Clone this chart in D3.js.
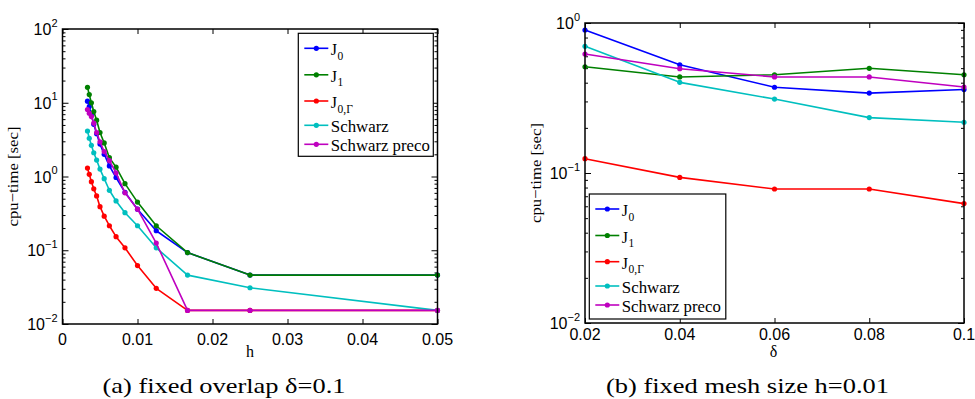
<!DOCTYPE html>
<html>
<head>
<meta charset="utf-8">
<script src="https://cdn.jsdelivr.net/npm/d3@7"></script>
<style>
  html, body { margin: 0; padding: 0; background: #fff; }
  svg { display: block; }
</style>
</head>
<body>
<svg id="fig" width="975" height="399"></svg>
<script>
// ---- data: (a) cpu-time vs mesh size h, overlap delta = 0.1 ----
const hValues = [0.00333, 0.00357, 0.00385, 0.00417, 0.00455, 0.005, 0.00556, 0.00625,
                 0.00714, 0.00833, 0.01, 0.0125, 0.01667, 0.025, 0.05];
const aJ0      = [10.5, 8.9, 6.8, 5.1, 3.8, 2.75, 2.0, 1.39, 0.97, 0.61, 0.36, 0.184, 0.093, 0.046, 0.046];
const aJ1      = [16.2, 12.9, 10.0, 7.6, 5.8, 3.95, 2.85, 1.8, 1.34, 0.80, 0.45, 0.215, 0.093, 0.046, 0.046];
const aJ0G     = [1.3, 1.07, 0.85, 0.68, 0.545, 0.39, 0.29, 0.215, 0.153, 0.108, 0.062, 0.0305, 0.0153, 0.0153, 0.0153];
const aSchwarz = [4.14, 3.3, 2.65, 2.1, 1.67, 1.26, 0.935, 0.65, 0.466, 0.323, 0.215, 0.108, 0.046, 0.031, 0.0153];
const aPreco   = [8.1, 7.2, 6.5, 5.3, 3.95, 2.95, 2.18, 1.64, 1.12, 0.60, 0.36, 0.125, 0.0153, 0.0153, 0.0153];

// ---- data: (b) cpu-time vs overlap delta, mesh size h = 0.01 ----
const deltaValues = [0.02, 0.04, 0.06, 0.08, 0.1];
const bJ0      = [0.898, 0.527, 0.373, 0.341, 0.360];
const bJ1      = [0.511, 0.437, 0.452, 0.499, 0.452];
const bJ0G     = [0.1245, 0.0935, 0.0782, 0.0782, 0.0625];
const bSchwarz = [0.699, 0.402, 0.311, 0.234, 0.218];
const bPreco   = [0.621, 0.496, 0.437, 0.437, 0.374];

// ---- series names (legend) and tick labels ----
const seriesNames = [["J", "0"], ["J", "1"], ["J", "0,Γ"], ["Schwarz", ""], ["Schwarz preco", ""]];
const seriesColors = ["#0000ff", "#008000", "#ff0000", "#00bfbf", "#bf00bf"];
const aXTicks = [0, 0.01, 0.02, 0.03, 0.04, 0.05];
const aXTickLabels = ["0", "0.01", "0.02", "0.03", "0.04", "0.05"];
const aYTicks = [1e-2, 1e-1, 1, 10, 100];
const aYExponents = ["−2", "−1", "0", "1", "2"];
const bXTicks = [0.02, 0.04, 0.06, 0.08, 0.1];
const bXTickLabels = ["0.02", "0.04", "0.06", "0.08", "0.1"];
const bYTicks = [1e-2, 1e-1, 1];
const bYExponents = ["−2", "−1", "0"];

const svg = d3.select("#fig");
svg.append("rect").attr("width", 975).attr("height", 399).attr("fill", "#fff");

const sans = "Liberation Sans";
const serif = "Liberation Serif";

function panel(cfg) {
  const g = svg.append("g");
  const x = d3.scaleLinear().domain(cfg.xDomain).range([cfg.x0, cfg.x1]);
  const y = d3.scaleLog().domain(cfg.yDomain).range([cfg.yBot, cfg.yTop]);

  // inward tick marks on all four sides
  const allY = y.ticks();
  const majorY = cfg.yTicks;
  const minorY = allY.filter(v => !majorY.some(m => Math.abs(Math.log10(v) - Math.log10(m)) < 1e-6));
  const tickGroups = [
    [d3.axisBottom(x).tickValues(cfg.xTicks).tickSize(-5), `translate(0,${cfg.yBot})`],
    [d3.axisTop(x).tickValues(cfg.xTicks).tickSize(-5), `translate(0,${cfg.yTop})`],
    [d3.axisLeft(y).tickValues(majorY).tickSize(-6), `translate(${cfg.x0},0)`],
    [d3.axisLeft(y).tickValues(minorY).tickSize(-3), `translate(${cfg.x0},0)`],
    [d3.axisRight(y).tickValues(majorY).tickSize(-6), `translate(${cfg.x1},0)`],
    [d3.axisRight(y).tickValues(minorY).tickSize(-3), `translate(${cfg.x1},0)`]
  ];
  tickGroups.forEach(([ax, tr]) => {
    const a = g.append("g").attr("transform", tr).call(ax.tickFormat(""));
    a.select(".domain").remove();
    a.selectAll("line").attr("stroke", "#000").attr("stroke-width", 1);
  });

  // series lines and dot markers
  cfg.series.forEach((vals, i) => {
    const pts = cfg.xValues.map((xv, j) => [xv, vals[j]]);
    g.append("path")
      .attr("d", d3.line().x(d => x(d[0])).y(d => y(d[1]))(pts))
      .attr("fill", "none").attr("stroke", seriesColors[i]).attr("stroke-width", 1.6)
      .attr("stroke-linejoin", "round");
    g.selectAll(null).data(pts).enter().append("circle")
      .attr("cx", d => x(d[0])).attr("cy", d => y(d[1])).attr("r", 2.6)
      .attr("fill", seriesColors[i]);
  });

  // frame
  g.append("rect").attr("x", cfg.x0).attr("y", cfg.yTop)
    .attr("width", cfg.x1 - cfg.x0).attr("height", cfg.yBot - cfg.yTop)
    .attr("fill", "none").attr("stroke", "#000").attr("stroke-width", 1.5);

  // x tick labels
  cfg.xTicks.forEach((v, i) => {
    g.append("text").attr("x", x(v)).attr("y", cfg.yBot + cfg.xLabelOffset)
      .attr("text-anchor", "middle").attr("font-family", sans).attr("font-size", 16)
      .text(cfg.xTickLabels[i]);
  });
  // y tick labels as 10^k
  cfg.yTicks.forEach((v, i) => {
    const t = g.append("text").attr("x", cfg.x0 - 5).attr("y", y(v) + 6)
      .attr("text-anchor", "end").attr("font-family", sans).attr("font-size", 16);
    t.append("tspan").text("10");
    t.append("tspan").attr("dy", -8.5).attr("font-size", 11).text(cfg.yExponents[i]);
  });

  // axis titles
  g.append("text").attr("transform", `translate(${cfg.yLabelX},${(cfg.yTop + cfg.yBot) / 2}) rotate(-90)`)
    .attr("text-anchor", "middle").attr("font-family", serif).attr("font-size", 15.5)
    .attr("textLength", 100).attr("lengthAdjust", "spacingAndGlyphs")
    .text("cpu−time [sec]");
  g.append("text").attr("x", (cfg.x0 + cfg.x1) / 2 + cfg.xTitleShift).attr("y", cfg.xTitleY)
    .attr("text-anchor", "middle").attr("font-family", serif).attr("font-size", 16)
    .text(cfg.xTitle);

  // legend
  const L = cfg.legend;
  const lg = g.append("g");
  lg.append("rect").attr("x", L.x).attr("y", L.y).attr("width", L.w).attr("height", L.h)
    .attr("fill", "#fff").attr("stroke", "#000").attr("stroke-width", 1.2);
  const rows = [15, 41.5, 67.7, 92, 111];
  const widths = [null, null, null, 58, 99];
  seriesNames.forEach((nm, i) => {
    const ly = L.y + rows[i];
    lg.append("line").attr("x1", L.x + 6).attr("x2", L.x + 30).attr("y1", ly).attr("y2", ly)
      .attr("stroke", seriesColors[i]).attr("stroke-width", 1.6);
    lg.append("circle").attr("cx", L.x + 18).attr("cy", ly).attr("r", 2.6).attr("fill", seriesColors[i]);
    const t = lg.append("text").attr("x", L.x + 32.5).attr("y", ly + 7)
      .attr("font-family", serif).attr("font-size", 16);
    if (widths[i]) t.attr("textLength", widths[i]).attr("lengthAdjust", "spacingAndGlyphs");
    t.append("tspan").text(nm[0]);
    if (nm[1]) t.append("tspan").attr("dy", 4.5).attr("dx", 0.5).attr("font-size", 11.5).text(nm[1]);
  });

  // caption
  g.append("text").attr("x", cfg.captionX).attr("y", 393)
    .attr("text-anchor", "middle").attr("font-family", serif).attr("font-size", 22)
    .attr("textLength", cfg.captionW).attr("lengthAdjust", "spacingAndGlyphs")
    .text(cfg.caption);
}

panel({
  x0: 62.5, x1: 437.5, yTop: 29, yBot: 324,
  xDomain: [0, 0.05], yDomain: [0.01, 100],
  xTicks: aXTicks, xTickLabels: aXTickLabels, yTicks: aYTicks, yExponents: aYExponents,
  xValues: hValues, series: [aJ0, aJ1, aJ0G, aSchwarz, aPreco],
  xLabelOffset: 21, yLabelX: 18, xTitle: "h", xTitleY: 357, xTitleShift: 0,
  legend: { x: 298.3, y: 33.3, w: 135, h: 123 },
  caption: "(a) fixed overlap δ=0.1", captionX: 224, captionW: 243
});

panel({
  x0: 585, x1: 964, yTop: 23, yBot: 323,
  xDomain: [0.02, 0.1], yDomain: [0.01, 1],
  xTicks: bXTicks, xTickLabels: bXTickLabels, yTicks: bYTicks, yExponents: bYExponents,
  xValues: deltaValues, series: [bJ0, bJ1, bJ0G, bSchwarz, bPreco],
  xLabelOffset: 17, yLabelX: 541, xTitle: "δ", xTitleY: 357, xTitleShift: -1,
  legend: { x: 589.3, y: 194, w: 136.5, h: 125 },
  caption: "(b) fixed mesh size h=0.01", captionX: 747.5, captionW: 283
});
</script>
</body>
</html>
